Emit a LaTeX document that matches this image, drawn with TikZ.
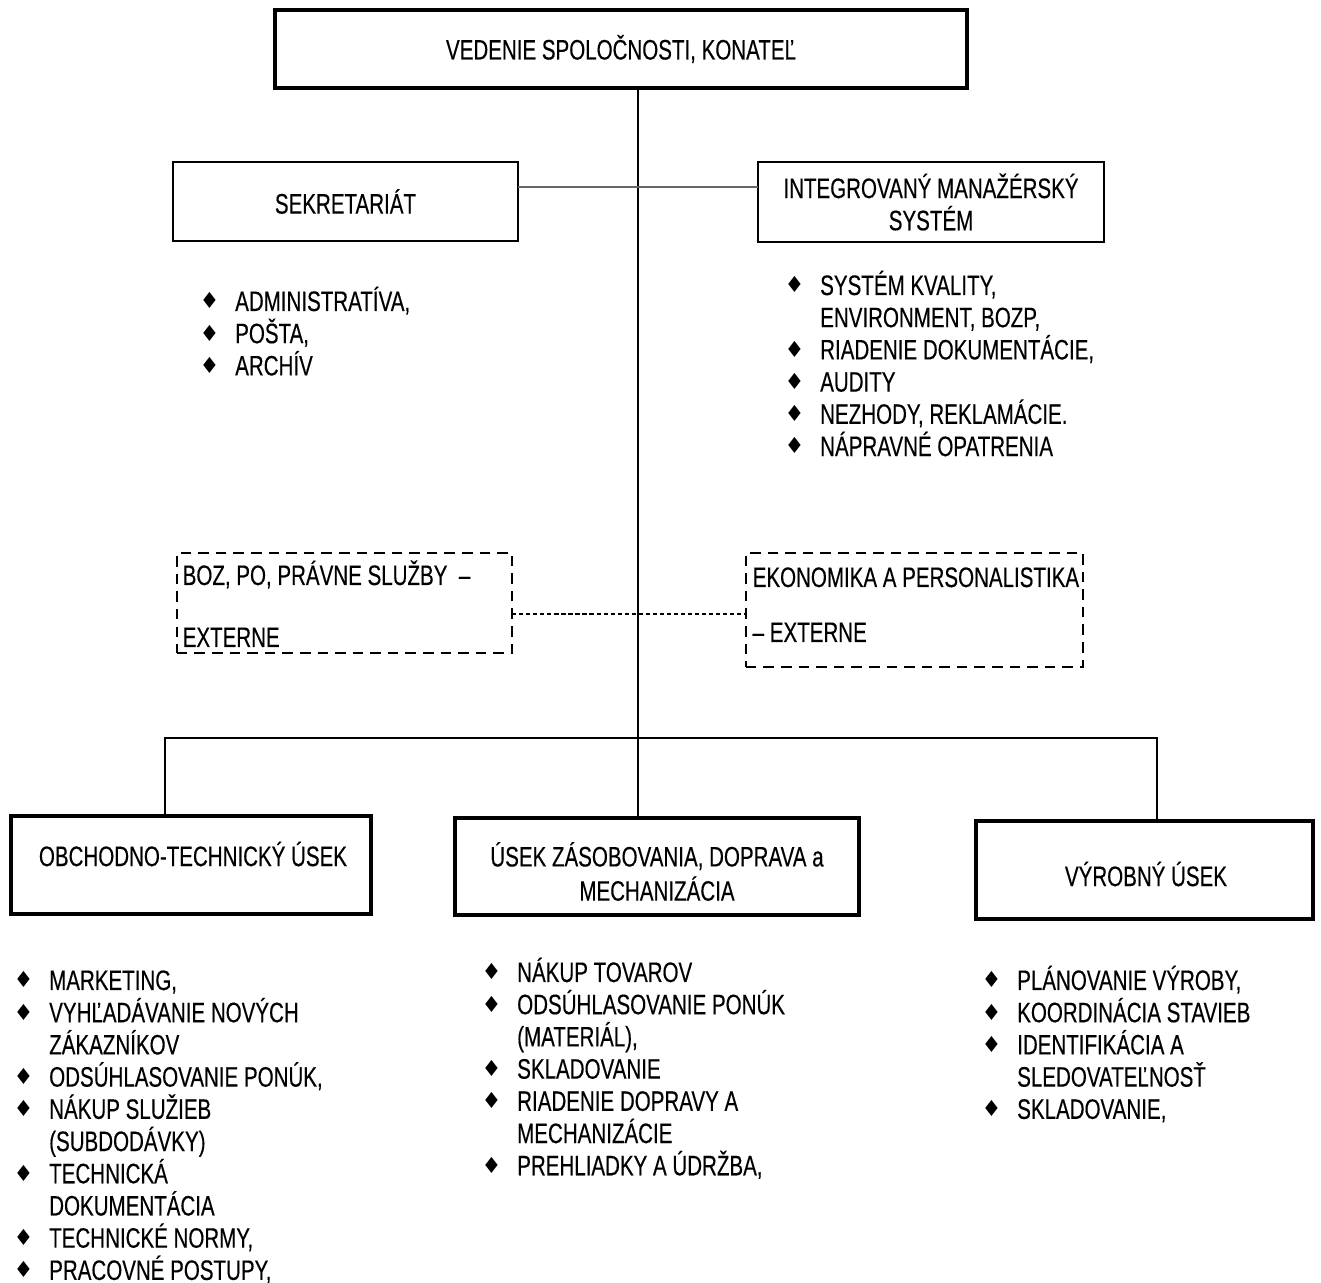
\documentclass[tikz,border=0pt]{standalone}
\usepackage{fontspec}
\setmainfont{Liberation Sans}[FakeStretch=0.73, FakeBold=0.3]
\newfontfamily\symfont{DejaVu Sans}
\usetikzlibrary{positioning}

\newcommand{\bul}{\makebox[0.355cm][l]{\raisebox{0.6pt}{\symfont\fontsize{6.3}{6}\selectfont ♦}}}
\newcommand{\li}[1]{\hbox{\bul #1}}
\newcommand{\lc}[1]{\hbox{\hspace*{0.355cm}#1}}

\tikzset{
    headbox/.style={draw, line width=1.2pt, inner sep=0pt, outer sep=0pt, align=center},
    staffbox/.style={draw, line width=0.6pt, inner sep=0pt, outer sep=0pt, align=center},
    extbox/.style={draw, line width=0.6pt, dash pattern=on 3pt off 2pt, inner sep=0pt, outer sep=0pt},
    unitbox/.style={draw, line width=1.1pt, inner sep=0pt, outer sep=0pt},
    itemlist/.style={anchor=base west, inner sep=0pt},
    plaintext/.style={anchor=base west, inner sep=0pt}
}

\begin{document}
\begin{tikzpicture}[x=0.01cm, y=-0.01cm, font=\fontsize{8}{9.16}\selectfont]
    \useasboundingbox (0,0) rectangle (1321,1283);

    % vedenie
    \node[headbox, minimum width=6.92cm, minimum height=0.78cm](top)at(621, 49){VEDENIE SPOLOČNOSTI, KONATEĽ};

    % stab
    \node[staffbox, minimum width=3.45cm, minimum height=0.79cm](sek)at(345.5, 201.5){SEKRETARIÁT};
    \node[staffbox, minimum width=3.46cm, minimum height=0.80cm](ims)at(931, 202){INTEGROVANÝ MANAŽÉRSKÝ\\SYSTÉM};

    \node[itemlist](sekitems)at(199, 311){\vtop{
        \li{ADMINISTRATÍVA,}
        \li{POŠTA,}
        \li{ARCHÍV}}};
    \node[itemlist](imsitems)at(784, 295){\vtop{
        \li{SYSTÉM KVALITY,}
        \lc{ENVIRONMENT, BOZP,}
        \li{RIADENIE DOKUMENTÁCIE,}
        \li{AUDITY}
        \li{NEZHODY, REKLAMÁCIE.}
        \li{NÁPRAVNÉ OPATRENIA}}};

    % externe
    \node[extbox, minimum width=3.35cm, minimum height=1.00cm](boz)at(344.5, 603){};
    \node[plaintext](boztop)at(182, 585){BOZ, PO, PRÁVNE SLUŽBY\ \ –};
    \node[plaintext](bozbot)at(182, 647){EXTERNE};
    \node[extbox, minimum width=3.37cm, minimum height=1.14cm](eko)at(914.5, 610){};
    \node[plaintext](ekotop)at(752, 587){EKONOMIKA A PERSONALISTIKA};
    \node[plaintext](ekobot)at(752, 642){– EXTERNE};

    % useky
    \node[unitbox, minimum width=3.60cm, minimum height=0.98cm](obch)at(191, 865){};
    \node[unitbox, minimum width=4.04cm, minimum height=0.97cm](zas)at(657, 866.5){};
    \node[unitbox, minimum width=3.37cm, minimum height=0.98cm](vyr)at(1144.5, 870){};
    \node(obchtext)at(193, 854){OBCHODNO-TECHNICKÝ ÚSEK};
    \node[align=center](zastext)at(657, 871.5){ÚSEK ZÁSOBOVANIA, DOPRAVA a\\[0.02cm]MECHANIZÁCIA};
    \node(vyrtext)at(1146, 874){VÝROBNÝ ÚSEK};

    \node[itemlist](obchitems)at(13, 990){\vtop{
        \li{MARKETING,}
        \li{VYHĽADÁVANIE NOVÝCH}
        \lc{ZÁKAZNÍKOV}
        \li{ODSÚHLASOVANIE PONÚK,}
        \li{NÁKUP SLUŽIEB}
        \lc{(SUBDODÁVKY)}
        \li{TECHNICKÁ}
        \lc{DOKUMENTÁCIA}
        \li{TECHNICKÉ NORMY,}
        \li{PRACOVNÉ POSTUPY,}}};
    \node[itemlist](zasitems)at(481, 982){\vtop{
        \li{NÁKUP TOVAROV}
        \li{ODSÚHLASOVANIE PONÚK}
        \lc{(MATERIÁL),}
        \li{SKLADOVANIE}
        \li{RIADENIE DOPRAVY A}
        \lc{MECHANIZÁCIE}
        \li{PREHLIADKY A ÚDRŽBA,}}};
    \node[itemlist](vyritems)at(981, 990){\vtop{
        \li{PLÁNOVANIE VÝROBY,}
        \li{KOORDINÁCIA STAVIEB}
        \li{IDENTIFIKÁCIA A}
        \lc{SLEDOVATEĽNOSŤ}
        \li{SKLADOVANIE,}}};

    % spojenia
    \coordinate(trunk)at(638, 738);
    \coordinate(busl)at(165, 738);
    \coordinate(busr)at(1157, 738);
    \coordinate(stafflink)at(638, 187);
    \coordinate(extlink)at(638, 614);
    \draw[line width=0.7pt](top.south -| trunk)--(zas.north -| trunk);
    \draw[line width=0.7pt](obch.north -| busl)--(busl)--(busr)--(vyr.north -| busr);
    \draw[line width=0.4pt, black!60](sek.east |- stafflink)--(ims.west |- stafflink);
    \draw[line width=0.4pt, dash pattern=on 1.2pt off 0.8pt](boz.east |- extlink)--(eko.west |- extlink);
\end{tikzpicture}
\end{document}
